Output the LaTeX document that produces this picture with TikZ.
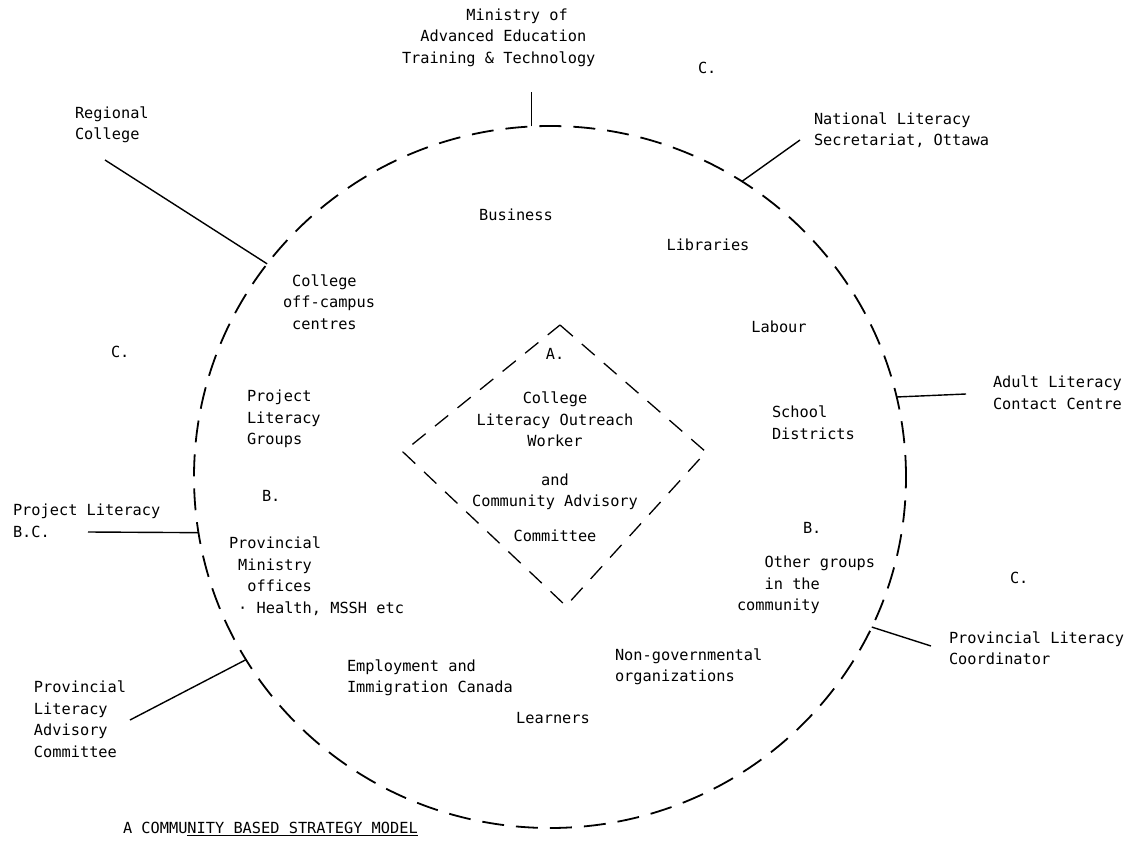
\documentclass[tikz,border=0pt]{standalone}
\usepackage{fontspec}
\setmonofont{DejaVu Sans Mono}
\usetikzlibrary{positioning}
\usetikzlibrary{shapes.geometric}

\begin{document}
\begin{tikzpicture}[x=1pt, y=-1pt,
    lbl/.style={font=\ttfamily\fontsize{15.3}{21.5}\selectfont, inner sep=0pt, outer sep=0pt},
    conn/.style={line width=1.4pt},
    ringline/.style={line width=1.8pt, dash pattern=on 22pt off 12pt},
    diamline/.style={line width=1.3pt, dash pattern=on 17pt off 12pt}]

    \useasboundingbox (0,0) rectangle (1130,843);

    \node[draw, ellipse, ringline, minimum width=712, minimum height=702, inner sep=0pt, outer sep=0pt] (ring) at (550,477) {};

    \coordinate (dtop) at (560,325);
    \coordinate (dright) at (706,452);
    \coordinate (dbottom) at (566,606);
    \coordinate (dleft) at (403,452);
    \draw[diamline] (dtop) -- (dright) -- (dbottom) -- (dleft) -- cycle;

    \node[lbl, align=center] (worker) at (555,445) {A.\\[23pt]College\\Literacy Outreach\\Worker\\[17pt]and\\Community Advisory\\[13pt]Committee};

    \node[lbl, anchor=west, align=left] (ministry) at (402,37.5) {\phantom{xxxxxxx}Ministry of\\\phantom{xx}Advanced Education\\Training \& Technology};
    \node[lbl, anchor=west] (cnorth) at (698,68) {C.};
    \node[lbl, anchor=west, align=left] (national) at (814,130) {National Literacy\\Secretariat, Ottawa};
    \node[lbl, anchor=west, align=left] (regional) at (75,125) {Regional\\College};
    \node[lbl, anchor=west, align=left] (offcampus) at (283,302) {\phantom{x}College\\off-campus\\\phantom{x}centres};
    \node[lbl] (business) at (516,215) {Business};
    \node[lbl] (libraries) at (708,245) {Libraries};
    \node[lbl] (labour) at (779,327) {Labour};
    \node[lbl, anchor=west] (cwest) at (111,352) {C.};
    \node[lbl, anchor=west, align=left] (groups) at (247,419) {Project\\Literacy\\Groups};
    \node[lbl, anchor=west, align=left] (schools) at (772,423) {School\\Districts};
    \node[lbl, anchor=west] (bwest) at (262,496) {B.};
    \node[lbl, anchor=west, align=left] (projectbc) at (13,521) {Project Literacy\\B.C.};
    \node[lbl, anchor=west, align=left] (ministryoff) at (229,576) {Provincial\\\phantom{x}Ministry\\\phantom{xx}offices\\\phantom{x}· Health, MSSH etc};
    \node[lbl, anchor=west] (beast) at (803,528) {B.};
    \node[lbl, anchor=west, align=left] (othergroups) at (737,585) {\phantom{xxx}Other groups\\\phantom{xxx}in the\\community};
    \node[lbl, anchor=west] (ceast) at (1010,578) {C.};
    \node[lbl, anchor=west, align=left] (adult) at (993,393) {Adult Literacy\\Contact Centre};
    \node[lbl, anchor=west, align=left] (coordinator) at (949,648) {Provincial Literacy\\Coordinator};
    \node[lbl, anchor=west, align=left] (employment) at (347,678) {Employment and\\Immigration Canada};
    \node[lbl, anchor=west, align=left] (ngo) at (615,667) {Non-governmental\\organizations};
    \node[lbl] (learners) at (553,718) {Learners};
    \node[lbl, anchor=west, align=left] (advisory) at (34,719) {Provincial\\Literacy\\Advisory\\Committee};
    \node[lbl, anchor=west] (caption) at (123,829) {A COMMU\underline{NITY BASED STRATEGY MODEL}};

    \coordinate (nationalend) at (800,140);
    \coordinate (regionalend) at (105,160);
    \coordinate (projectbcend) at (88,532);
    \coordinate (adultend) at (966,394);
    \coordinate (coordinatorend) at (931,646);
    \coordinate (advisoryend) at (130,720);

    \draw[conn] (ring.93.6) -- ++(0,-34) coordinate (ministryend);
    \draw[conn] (ring.57.6) -- (nationalend);
    \draw[conn] (ring.143.5) -- (regionalend);
    \draw[conn] (ring.189) -- (projectbcend);
    \draw[conn] (ring.13.2) -- (adultend);
    \draw[conn] (ring.335.2) -- (coordinatorend);
    \draw[conn] (ring.211.8) -- (advisoryend);

\end{tikzpicture}
\end{document}
